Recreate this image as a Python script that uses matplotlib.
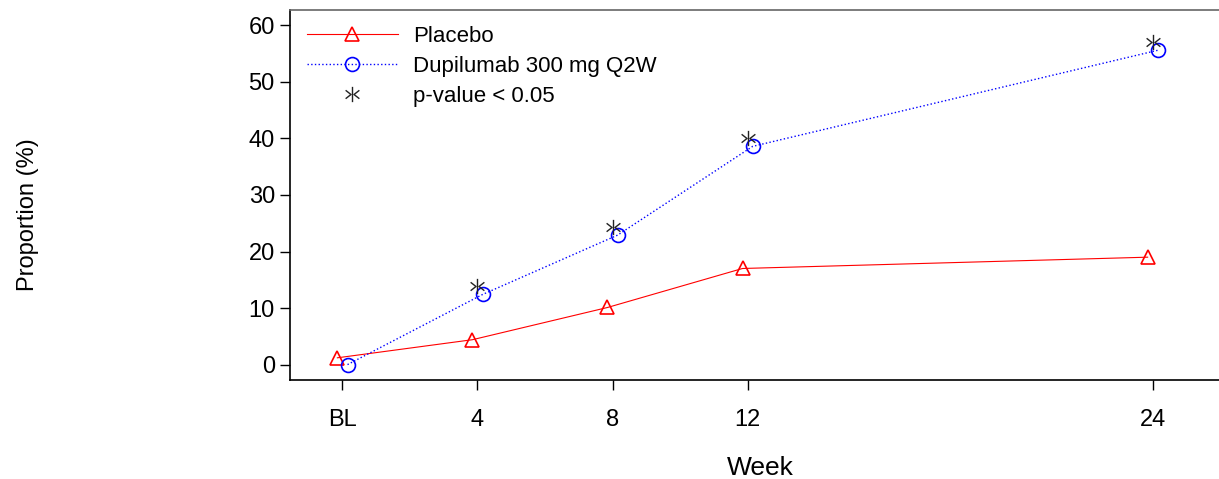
import matplotlib
matplotlib.use("Agg")
import matplotlib.pyplot as plt
import numpy as np
from matplotlib.path import Path

plt.rcParams["font.family"] = ["Liberation Sans", "DejaVu Sans"]

weeks = [0, 4, 8, 12, 24]
tick_labels = ["BL", "4", "8", "12", "24"]
placebo = [1.2, 4.4, 10.1, 17.0, 19.0]
dupilumab = [0.0, 12.4, 22.9, 38.6, 55.6]
sig_weeks = [4, 8, 12, 24]
sig_values = [13.9, 24.3, 40.0, 57.0]

OFFSET = 0.15

# SAS-style star marker: vertical bar with > and < chevrons
star_verts = [
    (0, -1), (0, 1),
    (-0.9, 0.55), (-0.2, 0), (-0.9, -0.55),
    (0.9, 0.55), (0.2, 0), (0.9, -0.55),
]
star_codes = [
    Path.MOVETO, Path.LINETO,
    Path.MOVETO, Path.LINETO, Path.LINETO,
    Path.MOVETO, Path.LINETO, Path.LINETO,
]
star_marker = Path(star_verts, star_codes)

fig = plt.figure(figsize=(12.19, 4.79), dpi=100)
ax = fig.add_axes([0.238, 0.207, 0.763, 0.773])

x = np.array(weeks, dtype=float)
ax.plot(x - OFFSET, placebo, color="red", linewidth=0.8, marker="^",
        markersize=10, markerfacecolor="none", markeredgecolor="red",
        markeredgewidth=1.2, label="Placebo")
ax.plot(x + OFFSET, dupilumab, color="blue", linewidth=1.0, linestyle=":",
        marker="o", markersize=10, markerfacecolor="none", markeredgecolor="blue",
        markeredgewidth=1.2, label="Dupilumab 300 mg Q2W")
ax.plot(sig_weeks, sig_values, linestyle="none", marker=star_marker,
        markersize=11, markeredgecolor="#222222", markerfacecolor="none",
        markeredgewidth=1.0, label="p-value < 0.05")

ax.set_xlim(-1.55, 26.0)
ax.set_ylim(-2.7, 62.8)
ax.set_xticks(weeks)
ax.set_xticklabels(tick_labels)
ax.set_yticks(range(0, 61, 10))
ax.tick_params(axis="both", labelsize=17, length=7, width=1, direction="out")
ax.tick_params(axis="x", pad=14)
ax.tick_params(axis="y", pad=4)

for side in ["left", "bottom", "top"]:
    ax.spines[side].set_linewidth(1.2)
ax.spines["top"].set_color("#666666")
ax.spines["right"].set_visible(False)

ax.set_xlabel("Week", fontsize=19)
ax.xaxis.set_label_coords(0.506, -0.238)
ax.xaxis.label.set_va("center")
ax.set_ylabel("Proportion (%)", fontsize=17)
ax.yaxis.set_label_coords(-0.27, 0.447)

ax.legend(loc="upper left", frameon=False, fontsize=16, handlelength=4.1,
          handletextpad=0.7, labelspacing=0.4, borderaxespad=0.35,
          bbox_to_anchor=(0.0, 1.0))

fig.savefig("out.png", dpi=100)
